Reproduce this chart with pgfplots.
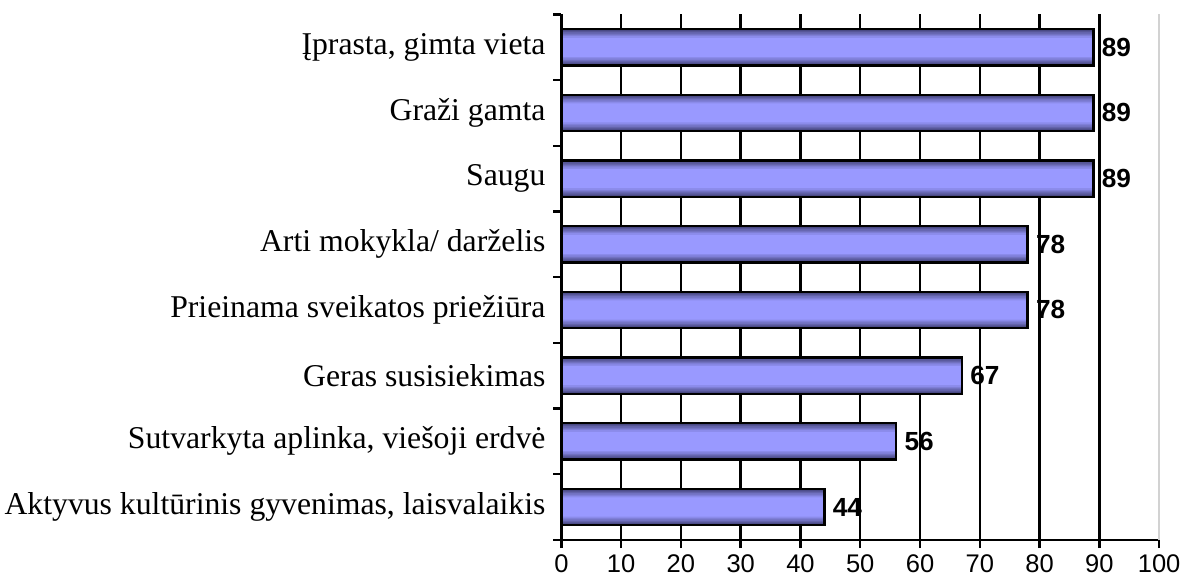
\documentclass[border=0pt]{standalone}
\usepackage{fontspec}
\setmainfont{Liberation Serif}
\newfontfamily\arial{Liberation Sans}
\usepackage{pgfplots}
\usepackage{pgfplotstable}
\pgfplotsset{compat=1.18}

\definecolor{barmid}{RGB}{153,153,255}
\definecolor{baredge}{RGB}{72,72,130}

% y = position from the bottom, val = percent
\pgfplotstableread{
y val
0 44
1 56
2 67
3 78
4 78
5 89
6 89
7 89
}\datatable

\begin{document}
\begin{tikzpicture}
\begin{axis}[
    name=ax,
    scale only axis,
    width=433.5pt, height=381pt,
    xbar, bar shift=0pt,
    xmin=0, xmax=100,
    ymin=-0.5, ymax=7.5,
    axis lines=left, axis line style={-, line width=1.8pt},
    xtick={0,10,...,90},
    extra x ticks={100},
    extra x tick style={grid style={gray!35, line width=1.2pt}},
    xmajorgrids, grid style={black, line width=1.8pt},
    tick align=outside, major tick length=6pt,
    tick style={black, line width=1.8pt},
    ytick={-0.5,0.5,...,7.5}, yticklabels={},
    extra y ticks={0,1,2,3,4,5,6,7},
    extra y tick labels={{Aktyvus kultūrinis gyvenimas, laisvalaikis},
        {Sutvarkyta aplinka, viešoji erdvė}, {Geras susisiekimas},
        {Prieinama sveikatos priežiūra}, {Arti mokykla/ darželis},
        {Saugu}, {Graži gamta}, {Įprasta, gimta vieta}},
    extra y tick style={major tick length=0pt, ymajorgrids=false,
        yticklabel style={font=\fontsize{23}{26}\selectfont, xshift=-8pt}},
    /pgf/number format/assume math mode=true,
    xticklabel style={font=\arial\fontsize{18.5}{20}\selectfont, yshift=-1pt},
    clip=false,
]
% shaded bars: stacked layers from dark edge to light centre
\addplot[draw=none, fill=baredge, bar width=0.55] table[x=val, y=y] {\datatable};
\addplot[draw=none, fill=barmid!17!baredge, bar width=0.50] table[x=val, y=y] {\datatable};
\addplot[draw=none, fill=barmid!33!baredge, bar width=0.46] table[x=val, y=y] {\datatable};
\addplot[draw=none, fill=barmid!50!baredge, bar width=0.42] table[x=val, y=y] {\datatable};
\addplot[draw=none, fill=barmid!67!baredge, bar width=0.38] table[x=val, y=y] {\datatable};
\addplot[draw=none, fill=barmid!83!baredge, bar width=0.34] table[x=val, y=y] {\datatable};
\addplot[draw=none, fill=barmid, bar width=0.29] table[x=val, y=y] {\datatable};
% outline and value labels
\addplot[draw=black, fill=none, line width=1.7pt, bar width=0.55,
    nodes near coords,
    every node near coord/.append style={font=\arial\bfseries\fontsize{19}{21}\selectfont,
        anchor=west, xshift=2pt}]
    table[x=val, y=y] {\datatable};
\end{axis}
\path ([yshift=10.5pt]ax.north) ([yshift=-6pt]ax.south) ([xshift=-5pt]ax.west) ([xshift=3pt]ax.east);
\end{tikzpicture}
\end{document}
